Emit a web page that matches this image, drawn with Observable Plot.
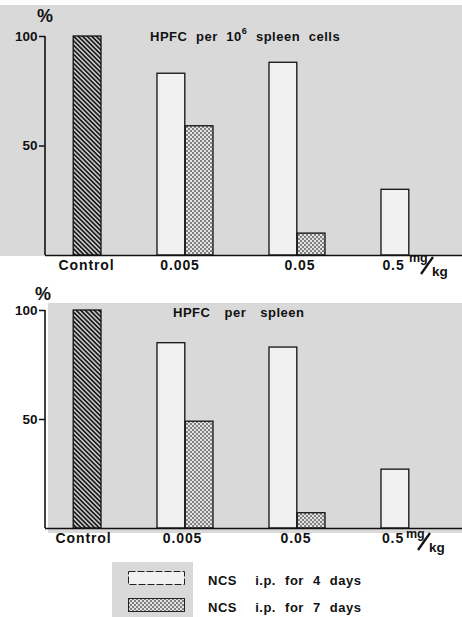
<!DOCTYPE html>
<html>
<head>
<meta charset="utf-8">
<script src="https://cdn.jsdelivr.net/npm/d3@7"></script>
<script src="https://cdn.jsdelivr.net/npm/@observablehq/plot@0.6"></script>
<style>
html, body { margin: 0; padding: 0; background: #ffffff; }
#root { position: relative; width: 462px; height: 617px; overflow: hidden;
  font-family: "Liberation Sans", Arial, sans-serif; font-weight: bold; color: #111; }
.abs { position: absolute; white-space: pre; line-height: 1; }
.bg { position: absolute; background: #d9d9d9; }
#root svg.plot { position: absolute; left: 0; }
sup.s { font-size: 9px; position: relative; top: -3px; vertical-align: top; }
</style>
</head>
<body>
<svg width="0" height="0" style="position:absolute">
  <defs>
    <pattern id="hatch" patternUnits="userSpaceOnUse" width="3.2" height="3.2" patternTransform="rotate(-45)">
      <rect width="3.2" height="3.2" fill="#cfcfcf"/>
      <rect width="1.7" height="3.2" fill="#1a1a1a"/>
    </pattern>
    <pattern id="stipple" patternUnits="userSpaceOnUse" width="4" height="4">
      <rect width="4" height="4" fill="#e4e4e4"/>
      <rect width="2" height="2" fill="#808080"/>
      <rect x="2" y="2" width="2" height="2" fill="#808080"/>
    </pattern>
  </defs>
</svg>
<div id="root">
  <div class="bg" style="left:0;top:5px;width:462px;height:251px"></div>
  <div class="bg" style="left:48px;top:303px;width:414px;height:230px"></div>
  <div class="bg" style="left:112px;top:562px;width:81px;height:55px"></div>
</div>
<script>
// ---- data ----
const doses = ["Control", "0.005", "0.05", "0.5"];
const treatedDoses = ["0.005", "0.05", "0.5"];
const seriesNames = ["NCS i.p. for 4 days", "NCS i.p. for 7 days"];
const yTicks = [50, 100];
const titles = ["HPFC per 10^6 spleen cells", "HPFC per spleen"];
const unitLabel = ["mg", "kg"];

// panel 1: HPFC per 10^6 spleen cells (% of control)
const cellsControl = 100;
const cells4days = [83, 88, 30];
const cells7days = [59, 10, null];

// panel 2: HPFC per spleen (% of control)
const spleenControl = 100;
const spleen4days = [85, 83, 27];
const spleen7days = [49, 7, null];

// ---- layout ----
const W = 462;
const halfBand = 28.2;

function axisLine(index, scales, values, dims) {
  return d3.create("svg:line")
    .attr("x1", dims.marginLeft).attr("x2", dims.marginLeft)
    .attr("y1", scales.y(d3.max(yTicks))).attr("y2", scales.y(0))
    .attr("stroke", "#111").attr("stroke-width", 1.6)
    .node();
}

function panel({control, v4, v7, height, mt, mb, labelDx}) {
  const ctrl = [{dose: doses[0], value: control}];
  const b4 = treatedDoses.map((d, i) => ({dose: d, value: v4[i]})).filter(d => d.value != null);
  const b7 = treatedDoses.map((d, i) => ({dose: d, value: v7[i]})).filter(d => d.value != null);
  const labels = doses.map((d, i) => Plot.text([d], {
    x: d => d, text: d => d, frameAnchor: "bottom", dy: 14, dx: labelDx[i],
    fontSize: 14, fill: "#111"
  }));
  const svg = Plot.plot({
    width: W, height,
    marginLeft: 45, marginRight: 0, marginTop: mt, marginBottom: mb,
    style: {background: "transparent", fontFamily: "'Liberation Sans', Arial, sans-serif",
      fontWeight: "bold", fontSize: "13px", color: "#111", overflow: "visible"},
    x: {type: "band", domain: doses, range: [15.5, 466.3], paddingInner: 0.5, paddingOuter: 0.25, axis: null},
    y: {domain: [0, 100], axis: null},
    marks: [
      Plot.barY(ctrl, {x: "dose", y: "value", fill: "url(#hatch)", stroke: "#111", strokeWidth: 1.3, insetLeft: halfBand}),
      Plot.barY(b4, {x: "dose", y: "value", fill: "#f1f1f1", stroke: "#111", strokeWidth: 1.3, insetRight: halfBand}),
      Plot.barY(b7, {x: "dose", y: "value", fill: "url(#stipple)", stroke: "#111", strokeWidth: 1.3, insetLeft: halfBand}),
      Plot.ruleY([0], {stroke: "#111", strokeWidth: 1.6}),
      Plot.axisY({ticks: yTicks, tickSize: 6, tickPadding: 2, label: null, strokeWidth: 1.5, fontSize: 13.5, tickFormat: d => String(d)}),
      axisLine,
      ...labels
    ]
  });
  d3.select(svg).selectAll("g[aria-label='text'] text").attr("letter-spacing", "0.9px");
  return svg;
}

const root = document.getElementById("root");

const p1 = panel({control: cellsControl, v4: cells4days, v7: cells7days, height: 280, mt: 36, mb: 25,
  labelDx: [13, -5.5, 2.5, -16]});
p1.classList.add("plot");
p1.style.top = "0px";
root.appendChild(p1);

const p2 = panel({control: spleenControl, v4: spleen4days, v7: spleen7days, height: 270, mt: 25, mb: 27,
  labelDx: [10, -3, -1.5, -16.5]});
p2.classList.add("plot");
p2.style.top = "285px";
root.appendChild(p2);

// ---- text overlays ----
function addText(html, left, top, size, extra = "") {
  const d = document.createElement("div");
  d.className = "abs";
  d.style.cssText += `left:${left}px;top:${top}px;font-size:${size}px;${extra}`;
  d.innerHTML = html;
  root.appendChild(d);
  return d;
}
const t1 = titles[0].split("^");
addText(`${t1[0]}<sup class="s">${t1[1][0]}</sup>${t1[1].slice(1)}`, 150, 29.5, 13, "letter-spacing:0.5px;word-spacing:4.5px;");
addText(titles[1], 173, 305.5, 13, "letter-spacing:0.5px;word-spacing:10px;");
addText("%", 37, 7, 18);
addText("%", 35, 285, 18);

function unit(dx, dy) {
  addText(unitLabel[0], 409 + dx, 252 + dy, 12.5);
  addText(unitLabel[1], 432 + dx, 264.5 + dy, 13.5);
  const s = d3.create("svg").attr("width", 20).attr("height", 24)
    .style("position", "absolute").style("left", (416 + dx) + "px").style("top", (254 + dy) + "px");
  s.append("line").attr("x1", 5).attr("y1", 20).attr("x2", 17).attr("y2", 3)
    .attr("stroke", "#111").attr("stroke-width", 2.2);
  root.appendChild(s.node());
}
unit(0, 0);
unit(-3, 276);

// legend
const sw = d3.create("svg").attr("width", 70).attr("height", 50)
  .style("position", "absolute").style("left", "120px").style("top", "566px");
sw.append("rect").attr("x", 8.5).attr("y", 5.5).attr("width", 56).attr("height", 13)
  .attr("fill", "#f1f1f1").attr("stroke", "#222").attr("stroke-width", 1).attr("stroke-dasharray", "7 2");
sw.append("rect").attr("x", 8.5).attr("y", 32.5).attr("width", 56).attr("height", 13)
  .attr("fill", "url(#stipple)").attr("stroke", "#222").attr("stroke-width", 1);
root.appendChild(sw.node());
addText(seriesNames[0].replace("NCS ", "NCS  "), 208, 573.5, 13, "letter-spacing:0.5px;word-spacing:5px;");
addText(seriesNames[1].replace("NCS ", "NCS  "), 208, 600.5, 13, "letter-spacing:0.5px;word-spacing:5px;");
</script>
</body>
</html>
